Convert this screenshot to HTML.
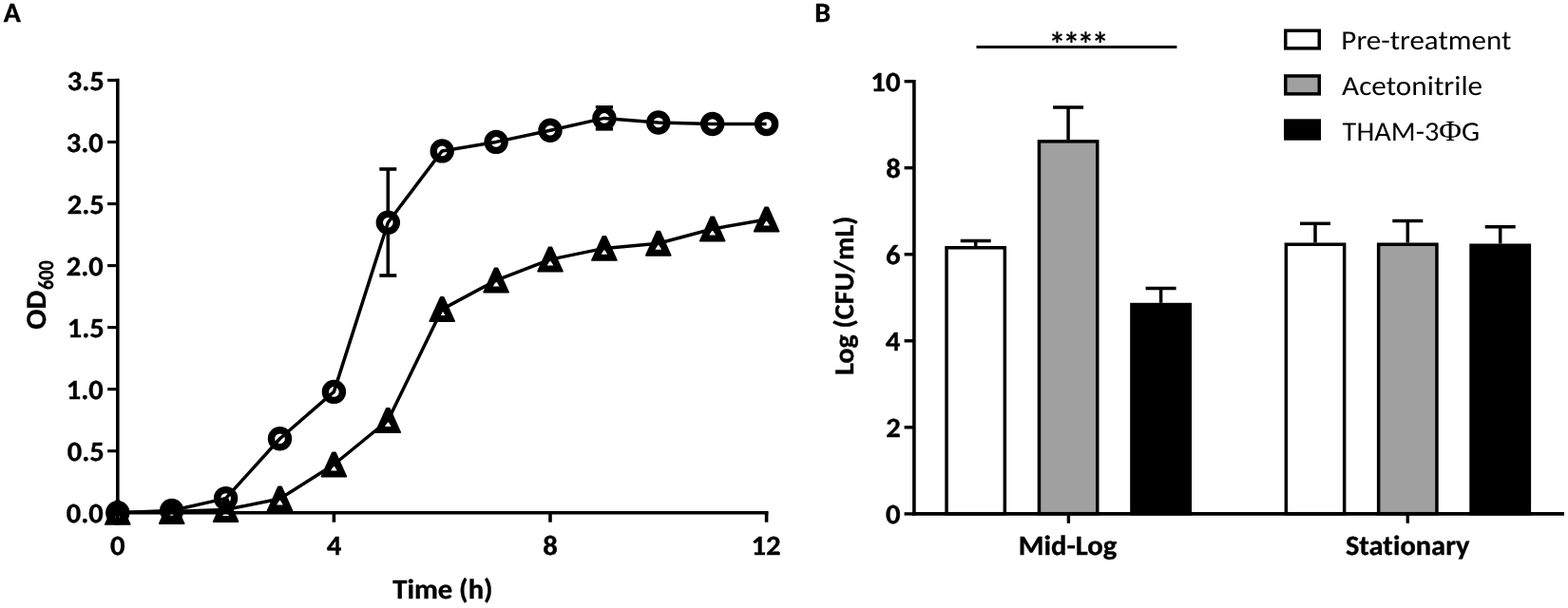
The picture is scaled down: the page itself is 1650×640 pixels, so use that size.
<!DOCTYPE html>
<html><head><meta charset="utf-8"><title>Figure</title>
<style>
html,body{margin:0;padding:0;background:#fff;}
body{width:1650px;height:640px;overflow:hidden;}
svg{display:block;}
svg text{font-family:Carlito, 'Liberation Sans', sans-serif;fill:#000;text-rendering:geometricPrecision;font-variant-ligatures:none;font-feature-settings:"liga" 0,"clig" 0;font-size-adjust:cap-height 0.6416;}
svg text[font-weight=bold]{stroke:#000;stroke-width:0.35px;font-size-adjust:cap-height 0.6484;}
svg tspan.phi{font-family:'Liberation Serif',serif;font-size-adjust:none;}
</style></head><body>
<svg width="1650" height="640" viewBox="0 0 1650 640">
<rect width="1650" height="640" fill="#fff"/>
<text x="3.84" y="23.00" font-size="29.3" font-weight="bold" textLength="18.07" lengthAdjust="spacingAndGlyphs">A</text>
<line x1="123.80" y1="82.85" x2="123.80" y2="541.50" stroke="#000" stroke-width="3.6" stroke-linecap="butt"/>
<line x1="122.00" y1="539.70" x2="808.50" y2="539.70" stroke="#000" stroke-width="3.6" stroke-linecap="butt"/>
<line x1="113.10" y1="539.80" x2="123.80" y2="539.80" stroke="#000" stroke-width="3.1" stroke-linecap="butt"/>
<text x="69.80" y="550.40" font-size="29.3" font-weight="bold" textLength="39.03" lengthAdjust="spacingAndGlyphs">0.0</text>
<line x1="113.10" y1="474.75" x2="123.80" y2="474.75" stroke="#000" stroke-width="3.1" stroke-linecap="butt"/>
<text x="70.72" y="485.35" font-size="29.3" font-weight="bold" textLength="39.03" lengthAdjust="spacingAndGlyphs">0.5</text>
<line x1="113.10" y1="409.70" x2="123.80" y2="409.70" stroke="#000" stroke-width="3.1" stroke-linecap="butt"/>
<text x="69.80" y="420.30" font-size="29.3" font-weight="bold" textLength="39.03" lengthAdjust="spacingAndGlyphs">1.0</text>
<line x1="113.10" y1="344.65" x2="123.80" y2="344.65" stroke="#000" stroke-width="3.1" stroke-linecap="butt"/>
<text x="70.72" y="355.25" font-size="29.3" font-weight="bold" textLength="39.03" lengthAdjust="spacingAndGlyphs">1.5</text>
<line x1="113.10" y1="279.60" x2="123.80" y2="279.60" stroke="#000" stroke-width="3.1" stroke-linecap="butt"/>
<text x="69.80" y="290.20" font-size="29.3" font-weight="bold" textLength="39.03" lengthAdjust="spacingAndGlyphs">2.0</text>
<line x1="113.10" y1="214.55" x2="123.80" y2="214.55" stroke="#000" stroke-width="3.1" stroke-linecap="butt"/>
<text x="70.72" y="225.15" font-size="29.3" font-weight="bold" textLength="39.03" lengthAdjust="spacingAndGlyphs">2.5</text>
<line x1="113.10" y1="149.50" x2="123.80" y2="149.50" stroke="#000" stroke-width="3.1" stroke-linecap="butt"/>
<text x="69.80" y="160.10" font-size="29.3" font-weight="bold" textLength="39.03" lengthAdjust="spacingAndGlyphs">3.0</text>
<line x1="113.10" y1="84.45" x2="123.80" y2="84.45" stroke="#000" stroke-width="3.1" stroke-linecap="butt"/>
<text x="70.72" y="95.05" font-size="29.3" font-weight="bold" textLength="39.03" lengthAdjust="spacingAndGlyphs">3.5</text>
<line x1="123.80" y1="539.70" x2="123.80" y2="549.70" stroke="#000" stroke-width="3.6" stroke-linecap="butt"/>
<text x="116.00" y="584.00" font-size="29.3" font-weight="bold" textLength="15.59" lengthAdjust="spacingAndGlyphs">0</text>
<line x1="351.40" y1="539.70" x2="351.40" y2="549.70" stroke="#000" stroke-width="3.6" stroke-linecap="butt"/>
<text x="343.72" y="584.00" font-size="29.3" font-weight="bold" textLength="15.59" lengthAdjust="spacingAndGlyphs">4</text>
<line x1="579.00" y1="539.70" x2="579.00" y2="549.70" stroke="#000" stroke-width="3.6" stroke-linecap="butt"/>
<text x="571.20" y="584.00" font-size="29.3" font-weight="bold" textLength="15.59" lengthAdjust="spacingAndGlyphs">8</text>
<line x1="806.60" y1="539.70" x2="806.60" y2="549.70" stroke="#000" stroke-width="3.6" stroke-linecap="butt"/>
<text x="790.51" y="584.00" font-size="29.3" font-weight="bold" textLength="31.19" lengthAdjust="spacingAndGlyphs">12</text>
<text x="413.33" y="629.90" font-size="29.3" font-weight="bold" textLength="105.23" lengthAdjust="spacingAndGlyphs">Time (h)</text>
<text transform="translate(48.10,346.63) rotate(-90)" x="0" y="0" font-size="30" font-weight="bold" textLength="40.85" lengthAdjust="spacingAndGlyphs">OD</text>
<text transform="translate(55.90,305.06) rotate(-90)" x="0" y="0" font-size="23" font-weight="bold" textLength="30.67" lengthAdjust="spacingAndGlyphs">600</text>
<polyline points="123.80,539.40 180.70,538.60 237.60,536.50 294.50,525.00 351.40,489.00 408.30,442.50 465.20,325.60 522.10,295.10 579.00,273.10 635.90,261.40 692.80,256.25 749.70,241.00 806.60,231.00" fill="none" stroke="#000" stroke-width="3.5" stroke-linejoin="round"/>
<polyline points="123.80,539.80 180.70,537.50 237.60,524.60 294.50,461.80 351.40,412.40 408.30,234.20 465.20,158.90 522.10,149.40 579.00,137.20 635.90,124.40 692.80,129.00 749.70,130.50 806.60,130.50" fill="none" stroke="#000" stroke-width="3.5" stroke-linejoin="round"/>
<line x1="408.30" y1="178.00" x2="408.30" y2="222.50" stroke="#000" stroke-width="3.6" stroke-linecap="butt"/>
<line x1="408.30" y1="245.90" x2="408.30" y2="290.00" stroke="#000" stroke-width="3.6" stroke-linecap="butt"/>
<line x1="399.30" y1="178.00" x2="417.30" y2="178.00" stroke="#000" stroke-width="3.6" stroke-linecap="butt"/>
<line x1="399.30" y1="290.00" x2="417.30" y2="290.00" stroke="#000" stroke-width="3.6" stroke-linecap="butt"/>
<line x1="635.90" y1="112.75" x2="635.90" y2="112.70" stroke="#000" stroke-width="3.5" stroke-linecap="butt"/>
<line x1="635.90" y1="136.10" x2="635.90" y2="135.85" stroke="#000" stroke-width="3.5" stroke-linecap="butt"/>
<line x1="626.80" y1="112.75" x2="645.00" y2="112.75" stroke="#000" stroke-width="3.5" stroke-linecap="butt"/>
<line x1="626.80" y1="135.85" x2="645.00" y2="135.85" stroke="#000" stroke-width="3.5" stroke-linecap="butt"/>
<path d="M122.28,526.80 L125.32,526.80 L136.70,551.90 L110.90,551.90 Z M118.90,546.70 L123.80,538.67 L128.70,546.70 Z" fill="#000" fill-rule="evenodd" stroke="#000" stroke-width="1.8" stroke-linejoin="round"/>
<path d="M179.18,526.00 L182.22,526.00 L193.60,551.10 L167.80,551.10 Z M175.80,545.90 L180.70,537.87 L185.60,545.90 Z" fill="#000" fill-rule="evenodd" stroke="#000" stroke-width="1.8" stroke-linejoin="round"/>
<path d="M236.08,523.90 L239.12,523.90 L250.50,549.00 L224.70,549.00 Z M232.70,543.80 L237.60,535.77 L242.50,543.80 Z" fill="#000" fill-rule="evenodd" stroke="#000" stroke-width="1.8" stroke-linejoin="round"/>
<path d="M292.98,512.40 L296.02,512.40 L307.40,537.50 L281.60,537.50 Z M289.60,532.30 L294.50,524.27 L299.40,532.30 Z" fill="#000" fill-rule="evenodd" stroke="#000" stroke-width="1.8" stroke-linejoin="round"/>
<path d="M349.88,476.40 L352.92,476.40 L364.30,501.50 L338.50,501.50 Z M346.50,496.30 L351.40,488.27 L356.30,496.30 Z" fill="#000" fill-rule="evenodd" stroke="#000" stroke-width="1.8" stroke-linejoin="round"/>
<path d="M406.78,429.90 L409.82,429.90 L421.20,455.00 L395.40,455.00 Z M403.40,449.80 L408.30,441.77 L413.20,449.80 Z" fill="#000" fill-rule="evenodd" stroke="#000" stroke-width="1.8" stroke-linejoin="round"/>
<path d="M463.68,313.00 L466.72,313.00 L478.10,338.10 L452.30,338.10 Z M460.30,332.90 L465.20,324.87 L470.10,332.90 Z" fill="#000" fill-rule="evenodd" stroke="#000" stroke-width="1.8" stroke-linejoin="round"/>
<path d="M520.58,282.50 L523.62,282.50 L535.00,307.60 L509.20,307.60 Z M517.20,302.40 L522.10,294.37 L527.00,302.40 Z" fill="#000" fill-rule="evenodd" stroke="#000" stroke-width="1.8" stroke-linejoin="round"/>
<path d="M577.48,260.50 L580.52,260.50 L591.90,285.60 L566.10,285.60 Z M574.10,280.40 L579.00,272.37 L583.90,280.40 Z" fill="#000" fill-rule="evenodd" stroke="#000" stroke-width="1.8" stroke-linejoin="round"/>
<path d="M634.38,248.80 L637.42,248.80 L648.80,273.90 L623.00,273.90 Z M631.00,268.70 L635.90,260.67 L640.80,268.70 Z" fill="#000" fill-rule="evenodd" stroke="#000" stroke-width="1.8" stroke-linejoin="round"/>
<path d="M691.28,243.65 L694.32,243.65 L705.70,268.75 L679.90,268.75 Z M687.90,263.55 L692.80,255.52 L697.70,263.55 Z" fill="#000" fill-rule="evenodd" stroke="#000" stroke-width="1.8" stroke-linejoin="round"/>
<path d="M748.18,228.40 L751.22,228.40 L762.60,253.50 L736.80,253.50 Z M744.80,248.30 L749.70,240.27 L754.60,248.30 Z" fill="#000" fill-rule="evenodd" stroke="#000" stroke-width="1.8" stroke-linejoin="round"/>
<path d="M805.08,218.40 L808.12,218.40 L819.50,243.50 L793.70,243.50 Z M801.70,238.30 L806.60,230.27 L811.50,238.30 Z" fill="#000" fill-rule="evenodd" stroke="#000" stroke-width="1.8" stroke-linejoin="round"/>
<circle cx="123.80" cy="539.80" r="9.0" fill="none" stroke="#000" stroke-width="7.4"/>
<circle cx="180.70" cy="537.50" r="9.0" fill="none" stroke="#000" stroke-width="7.4"/>
<circle cx="237.60" cy="524.60" r="9.0" fill="none" stroke="#000" stroke-width="7.4"/>
<circle cx="294.50" cy="461.80" r="9.0" fill="none" stroke="#000" stroke-width="7.4"/>
<circle cx="351.40" cy="412.40" r="9.0" fill="none" stroke="#000" stroke-width="7.4"/>
<circle cx="408.30" cy="234.20" r="9.0" fill="none" stroke="#000" stroke-width="7.4"/>
<circle cx="465.20" cy="158.90" r="9.0" fill="none" stroke="#000" stroke-width="7.4"/>
<circle cx="522.10" cy="149.40" r="9.0" fill="none" stroke="#000" stroke-width="7.4"/>
<circle cx="579.00" cy="137.20" r="9.0" fill="none" stroke="#000" stroke-width="7.4"/>
<circle cx="635.90" cy="124.40" r="9.0" fill="none" stroke="#000" stroke-width="7.4"/>
<circle cx="692.80" cy="129.00" r="9.0" fill="none" stroke="#000" stroke-width="7.4"/>
<circle cx="749.70" cy="130.50" r="9.0" fill="none" stroke="#000" stroke-width="7.4"/>
<circle cx="806.60" cy="130.50" r="9.0" fill="none" stroke="#000" stroke-width="7.4"/>
<text x="857.36" y="23.00" font-size="29.3" font-weight="bold" textLength="16.83" lengthAdjust="spacingAndGlyphs">B</text>
<line x1="961.90" y1="83.95" x2="961.90" y2="542.50" stroke="#000" stroke-width="3.6" stroke-linecap="butt"/>
<line x1="960.10" y1="540.70" x2="1646.00" y2="540.70" stroke="#000" stroke-width="3.6" stroke-linecap="butt"/>
<line x1="951.60" y1="540.90" x2="961.90" y2="540.90" stroke="#000" stroke-width="3.4" stroke-linecap="butt"/>
<text x="931.94" y="551.10" font-size="29.3" font-weight="bold" textLength="15.59" lengthAdjust="spacingAndGlyphs">0</text>
<line x1="951.60" y1="449.85" x2="961.90" y2="449.85" stroke="#000" stroke-width="3.4" stroke-linecap="butt"/>
<text x="932.37" y="460.05" font-size="29.3" font-weight="bold" textLength="15.59" lengthAdjust="spacingAndGlyphs">2</text>
<line x1="951.60" y1="358.80" x2="961.90" y2="358.80" stroke="#000" stroke-width="3.4" stroke-linecap="butt"/>
<text x="931.77" y="369.00" font-size="29.3" font-weight="bold" textLength="15.59" lengthAdjust="spacingAndGlyphs">4</text>
<line x1="951.60" y1="267.75" x2="961.90" y2="267.75" stroke="#000" stroke-width="3.4" stroke-linecap="butt"/>
<text x="931.98" y="277.95" font-size="29.3" font-weight="bold" textLength="15.59" lengthAdjust="spacingAndGlyphs">6</text>
<line x1="951.60" y1="176.70" x2="961.90" y2="176.70" stroke="#000" stroke-width="3.4" stroke-linecap="butt"/>
<text x="932.22" y="186.90" font-size="29.3" font-weight="bold" textLength="15.59" lengthAdjust="spacingAndGlyphs">8</text>
<line x1="951.60" y1="85.65" x2="961.90" y2="85.65" stroke="#000" stroke-width="3.4" stroke-linecap="butt"/>
<text x="916.35" y="95.85" font-size="29.3" font-weight="bold" textLength="31.19" lengthAdjust="spacingAndGlyphs">10</text>
<line x1="1124.40" y1="540.70" x2="1124.40" y2="550.80" stroke="#000" stroke-width="3.4" stroke-linecap="butt"/>
<line x1="1481.30" y1="540.70" x2="1481.30" y2="550.80" stroke="#000" stroke-width="3.4" stroke-linecap="butt"/>
<text x="1071.73" y="583.80" font-size="29.3" font-weight="bold" textLength="103.60" lengthAdjust="spacingAndGlyphs">Mid-Log</text>
<text x="1415.94" y="583.50" font-size="29.3" font-weight="bold" textLength="130.61" lengthAdjust="spacingAndGlyphs">Stationary</text>
<text transform="translate(897.70,394.98) rotate(-90)" x="0" y="0" font-size="29" font-weight="bold" textLength="167.41" lengthAdjust="spacingAndGlyphs">Log (CFU/mL)</text>
<line x1="1026.70" y1="253.40" x2="1026.70" y2="259.00" stroke="#000" stroke-width="3.5" stroke-linecap="butt"/>
<line x1="1010.70" y1="253.40" x2="1042.70" y2="253.40" stroke="#000" stroke-width="3.5" stroke-linecap="butt"/>
<rect x="996.05" y="260.75" width="61.30" height="279.95" fill="#fff" stroke="#000" stroke-width="3.5"/>
<line x1="1124.10" y1="113.00" x2="1124.10" y2="147.10" stroke="#000" stroke-width="3.5" stroke-linecap="butt"/>
<line x1="1108.10" y1="113.00" x2="1140.10" y2="113.00" stroke="#000" stroke-width="3.5" stroke-linecap="butt"/>
<rect x="1093.45" y="148.85" width="61.30" height="391.85" fill="#a0a0a0" stroke="#000" stroke-width="3.5"/>
<line x1="1221.60" y1="303.50" x2="1221.60" y2="318.80" stroke="#000" stroke-width="3.5" stroke-linecap="butt"/>
<line x1="1205.60" y1="303.50" x2="1237.60" y2="303.50" stroke="#000" stroke-width="3.5" stroke-linecap="butt"/>
<rect x="1190.95" y="320.55" width="61.30" height="220.15" fill="#000" stroke="#000" stroke-width="3.5"/>
<line x1="1384.00" y1="235.30" x2="1384.00" y2="255.50" stroke="#000" stroke-width="3.5" stroke-linecap="butt"/>
<line x1="1368.00" y1="235.30" x2="1400.00" y2="235.30" stroke="#000" stroke-width="3.5" stroke-linecap="butt"/>
<rect x="1353.35" y="257.25" width="61.30" height="283.45" fill="#fff" stroke="#000" stroke-width="3.5"/>
<line x1="1481.30" y1="232.50" x2="1481.30" y2="255.50" stroke="#000" stroke-width="3.5" stroke-linecap="butt"/>
<line x1="1465.30" y1="232.50" x2="1497.30" y2="232.50" stroke="#000" stroke-width="3.5" stroke-linecap="butt"/>
<rect x="1450.65" y="257.25" width="61.30" height="283.45" fill="#a0a0a0" stroke="#000" stroke-width="3.5"/>
<line x1="1578.70" y1="238.70" x2="1578.70" y2="256.50" stroke="#000" stroke-width="3.5" stroke-linecap="butt"/>
<line x1="1562.70" y1="238.70" x2="1594.70" y2="238.70" stroke="#000" stroke-width="3.5" stroke-linecap="butt"/>
<rect x="1548.05" y="258.25" width="61.30" height="282.45" fill="#000" stroke="#000" stroke-width="3.5"/>
<line x1="960.10" y1="540.70" x2="1646.00" y2="540.70" stroke="#000" stroke-width="3.6" stroke-linecap="butt"/>
<line x1="1027.50" y1="49.50" x2="1238.40" y2="49.50" stroke="#000" stroke-width="3.1" stroke-linecap="butt"/>
<text x="1103.38 1118.47 1133.58 1148.67" y="58.58" font-size="36" font-weight="bold" style="stroke:none">****</text>
<rect x="1352.75" y="32.25" width="35.50" height="18.60" fill="#fff" stroke="#000" stroke-width="3.5"/>
<rect x="1352.75" y="79.95" width="35.50" height="18.90" fill="#a0a0a0" stroke="#000" stroke-width="3.5"/>
<rect x="1352.75" y="127.05" width="35.50" height="18.90" fill="#000" stroke="#000" stroke-width="3.5"/>
<text x="1411.39" y="51.70" font-size="29" font-weight="normal" textLength="178.95" lengthAdjust="spacingAndGlyphs">Pre-treatment</text>
<text x="1412.08" y="100.00" font-size="29" font-weight="normal" textLength="148.05" lengthAdjust="spacingAndGlyphs">Acetonitrile</text>
<text x="1412.64" y="148.00" font-size="29" font-weight="normal" textLength="144.55" lengthAdjust="spacingAndGlyphs">THAM-3<tspan class="phi" font-size="31">Φ</tspan>G</text>
</svg>
</body></html>
